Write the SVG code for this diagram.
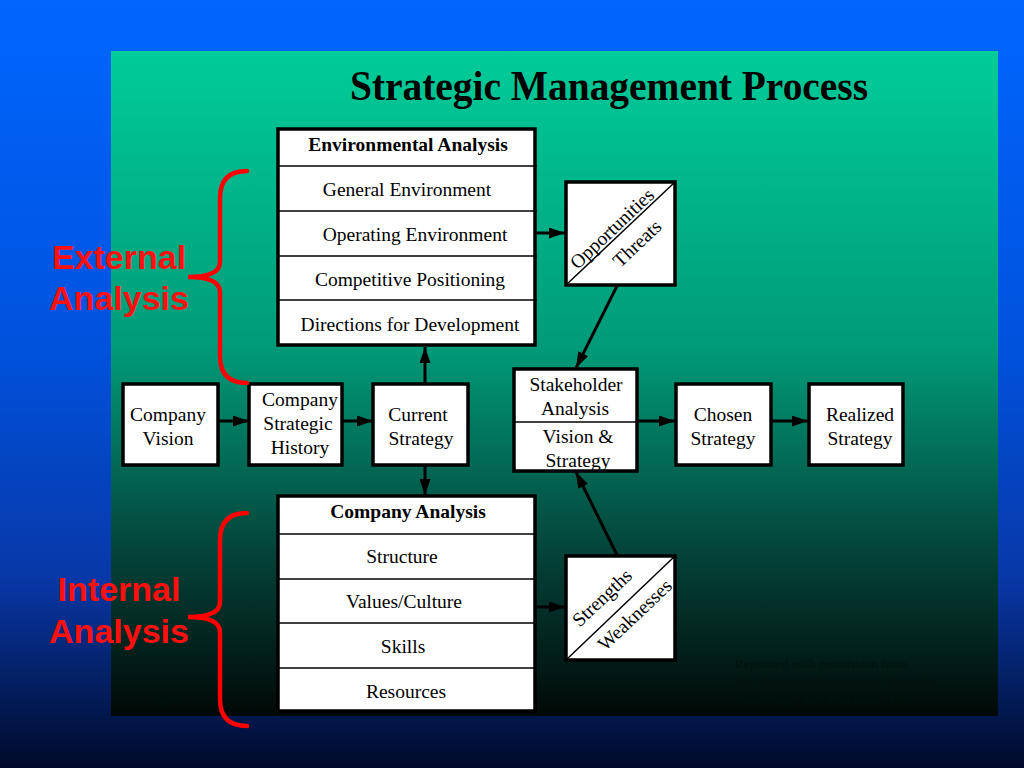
<svg xmlns="http://www.w3.org/2000/svg" width="1024" height="768" viewBox="0 0 1024 768">
<defs>
<linearGradient id="bgOuter" x1="0" y1="0" x2="0" y2="1">
<stop offset="0" stop-color="#0066ff"/>
<stop offset="0.45" stop-color="#0052dd"/>
<stop offset="0.75" stop-color="#0838a8"/>
<stop offset="1" stop-color="#000a2a"/>
</linearGradient>
<linearGradient id="bgPanel" x1="0" y1="0" x2="0" y2="1">
<stop offset="0" stop-color="#00cc99"/>
<stop offset="0.45" stop-color="#009a78"/>
<stop offset="0.75" stop-color="#04443a"/>
<stop offset="1" stop-color="#010806"/>
</linearGradient>
<marker id="arrow" viewBox="0 0 16 11" refX="16" refY="5.5" markerWidth="16" markerHeight="11" markerUnits="userSpaceOnUse" orient="auto">
<path d="M0,0 L16,5.5 L0,11 Z" fill="#000"/>
</marker>
<style>
.box{fill:#fff;stroke:#000;stroke-width:3.5}
.sep{stroke:#000;stroke-width:1.5}
.t{font-family:"Liberation Serif","Times New Roman",serif;font-size:19.5px;fill:#000;text-anchor:middle}
.b{font-weight:bold}
.conn{stroke:#000;stroke-width:3;fill:none;marker-end:url(#arrow)}
.brace{stroke:#ff0000;stroke-width:4.5;fill:none;stroke-linecap:round}
.red{font-family:"Liberation Sans",Arial,sans-serif;font-weight:bold;font-size:34px;fill:#ff1010;text-anchor:middle}
.note{font-family:"Liberation Serif","Times New Roman",serif;font-size:13.5px;fill:#03120d}
</style>
</defs>
<rect x="0" y="0" width="1024" height="768" fill="url(#bgOuter)"/>
<rect x="111" y="51" width="887" height="665" fill="url(#bgPanel)"/>

<text x="609" y="100" font-family="Liberation Serif,'Times New Roman',serif" font-weight="bold" font-size="42" text-anchor="middle" textLength="518" lengthAdjust="spacingAndGlyphs" fill="#000">Strategic Management Process</text>

<g id="connectors">
<line class="conn" x1="218" y1="421" x2="249" y2="421"/>
<line class="conn" x1="342" y1="421" x2="373" y2="421"/>
<line class="conn" x1="425" y1="384" x2="425" y2="347"/>
<line class="conn" x1="425" y1="465" x2="425" y2="495"/>
<line class="conn" x1="535" y1="233" x2="565" y2="233"/>
<line class="conn" x1="535" y1="607" x2="565" y2="607"/>
<line class="conn" x1="617" y1="286" x2="576" y2="368"/>
<line class="conn" x1="617" y1="555" x2="576" y2="472"/>
<line class="conn" x1="637" y1="421" x2="675" y2="421"/>
<line class="conn" x1="771" y1="421" x2="808" y2="421"/>
</g>

<g id="environmental-analysis">
<rect class="box" x="278" y="129" width="257" height="216"/>
<line class="sep" x1="278" y1="166" x2="537" y2="166" stroke-width="2.5"/>
<line class="sep" x1="278" y1="211" x2="537" y2="211"/>
<line class="sep" x1="278" y1="256" x2="537" y2="256"/>
<line class="sep" x1="278" y1="300" x2="537" y2="300"/>
<text class="t b" x="408" y="151">Environmental Analysis</text>
<text class="t" x="407" y="196">General Environment</text>
<text class="t" x="415" y="241">Operating Environment</text>
<text class="t" x="410" y="286">Competitive Positioning</text>
<text class="t" x="410" y="331">Directions for Development</text>
</g>

<g id="company-analysis">
<rect class="box" x="278" y="496" width="257" height="215"/>
<line class="sep" x1="278" y1="534" x2="537" y2="534" stroke-width="2.5"/>
<line class="sep" x1="278" y1="579" x2="537" y2="579"/>
<line class="sep" x1="278" y1="623" x2="537" y2="623"/>
<line class="sep" x1="278" y1="668" x2="537" y2="668"/>
<text class="t b" x="408" y="518">Company Analysis</text>
<text class="t" x="402" y="563">Structure</text>
<text class="t" x="404" y="608">Values/Culture</text>
<text class="t" x="403" y="653">Skills</text>
<text class="t" x="406" y="698">Resources</text>
</g>

<g id="company-vision">
<rect class="box" x="123" y="384" width="95" height="81"/>
<text class="t" x="168" y="421">Company</text>
<text class="t" x="168" y="445">Vision</text>
</g>

<g id="company-strategic-history">
<rect class="box" x="249" y="384" width="93" height="81"/>
<text class="t" x="300" y="406">Company</text>
<text class="t" x="298" y="430">Strategic</text>
<text class="t" x="300" y="454">History</text>
</g>

<g id="current-strategy">
<rect class="box" x="373" y="384" width="95" height="81"/>
<text class="t" x="418" y="421">Current</text>
<text class="t" x="421" y="445">Strategy</text>
</g>

<g id="stakeholder-analysis">
<rect class="box" x="514" y="369" width="123" height="102"/>
<line class="sep" x1="514" y1="422" x2="637" y2="422"/>
<text class="t" x="576" y="391">Stakeholder</text>
<text class="t" x="575" y="415">Analysis</text>
<text class="t" x="578" y="443">Vision &amp;</text>
<text class="t" x="578" y="467">Strategy</text>
</g>

<g id="chosen-strategy">
<rect class="box" x="676" y="384" width="95" height="81"/>
<text class="t" x="723" y="421">Chosen</text>
<text class="t" x="723" y="445">Strategy</text>
</g>

<g id="realized-strategy">
<rect class="box" x="809" y="384" width="94" height="81"/>
<text class="t" x="860" y="421">Realized</text>
<text class="t" x="860" y="445">Strategy</text>
</g>

<g id="opportunities-threats">
<rect class="box" x="566" y="182" width="109" height="103"/>
<line class="sep" x1="566" y1="285" x2="675" y2="182"/>
<g transform="translate(618.5,235.5) rotate(-43.4)">
<text class="t" x="0" y="-3">Opportunities</text>
<text class="t" x="8" y="25">Threats</text>
</g>
</g>

<g id="strengths-weaknesses">
<rect class="box" x="566" y="556" width="109" height="104"/>
<line class="sep" x1="566" y1="660" x2="675" y2="556"/>
<g transform="translate(566,660) rotate(-43.4)">
<text class="t" x="69" y="-14">Strengths</text>
<text class="t" x="81" y="21">Weaknesses</text>
</g>
</g>

<g id="external-analysis">
<path class="brace" d="M247,171 Q220,171 220,198 L220,262 Q220,277 188,277 Q220,277 220,292 L220,356 Q220,383 247,383"/>
<text class="red" x="119" y="269">External</text>
<text class="red" x="119" y="310">Analysis</text>
</g>

<g id="internal-analysis">
<path class="brace" d="M247,513 Q220,513 220,540 L220,602 Q220,617 188,617 Q220,617 220,632 L220,699 Q220,726 247,726"/>
<text class="red" x="119" y="601">Internal</text>
<text class="red" x="119" y="643">Analysis</text>
</g>

<text class="note" x="152" y="703">Figure 7</text>
<text class="note" x="735" y="668">Reprinted with permission from</text>
<text class="note" x="735" y="686" font-style="italic">The Strategic Management Blueprint</text>
<text class="note" x="735" y="704" font-style="italic">Cambridge, Ma: Blackwell, 1993.</text>
</svg>
